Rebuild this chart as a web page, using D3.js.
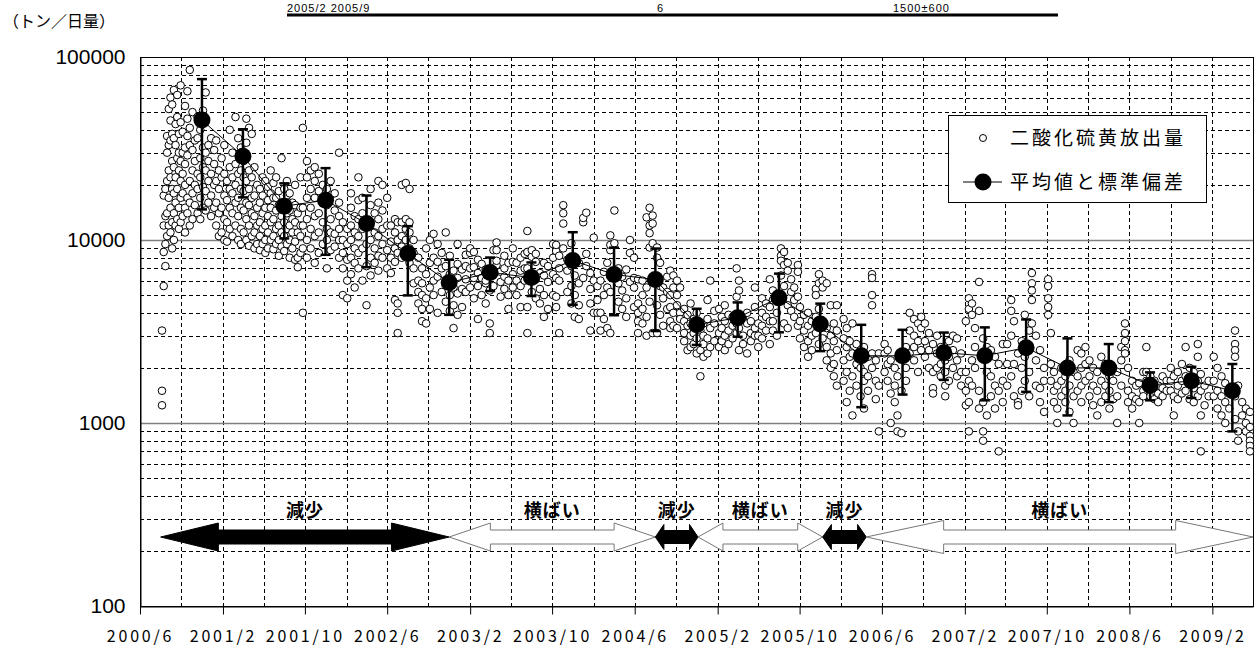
<!DOCTYPE html>
<html>
<head>
<meta charset="utf-8">
<script src="https://cdn.jsdelivr.net/npm/d3@7"></script>
<style>
body { margin: 0; background: #fff; }
svg text { font-family: "Noto Sans CJK JP", "Noto Sans", sans-serif; fill: #000; }
</style>
</head>
<body>
<div id="chart"></div>
<script>
// 4ヶ月ごとの平均値と標準偏差
let meanDates = ["2000-12-01", "2001-04-01", "2001-08-01", "2001-12-01", "2002-04-01", "2002-08-01",
    "2002-12-01", "2003-04-01", "2003-08-01", "2003-12-01", "2004-04-01", "2004-08-01",
    "2004-12-01", "2005-04-01", "2005-08-01", "2005-12-01", "2006-04-01", "2006-08-01",
    "2006-12-01", "2007-04-01", "2007-08-01", "2007-12-01", "2008-04-01", "2008-08-01",
    "2008-12-01", "2009-04-01"];
let meanValues = [45200, 28700, 15300, 16500, 12300, 8440, 5850, 6640, 6240, 7730, 6480, 6080,
    3440, 3760, 4840, 3480, 2330, 2330, 2420, 2330, 2580, 2000, 2000, 1610, 1700, 1500];
let meanSD = [30500, 11600, 5100, 8200, 5200, 3460, 1950, 1380, 1300, 3300, 2600, 2900,
    770, 800, 1710, 1010, 1110, 900, 700, 1000, 1100, 900, 700, 280, 330, 600];

// 傾向の区間
let trendStarts = ["2000-08-01", "2002-12-01", "2004-08-01", "2004-12-05", "2005-12-08", "2006-04-16"];
let trendEnds = ["2002-12-01", "2004-08-01", "2004-12-05", "2005-12-08", "2006-04-16", "2009-06-01"];
let trendLabels = ["減少", "横ばい", "減少", "横ばい", "減少", "横ばい"];

let yTickValues = [100, 1000, 10000, 100000];

// 上端で切れている表の最後の行
let tableRow = ["2005/2  2005/9", "6", "1500±600"];

// 二酸化硫黄放出量 (観測日, その日付付近の値)
let so2Obs = [
    ["2000-08-05", [1500, 1250, 3200]],
    ["2000-08-10", [5600, 8600, 12000, 17500]],
    ["2000-08-15", [7200, 9500, 13500, 19000]],
    ["2000-08-20", [10500, 14000, 21000, 30000, 37000]],
    ["2000-08-25", [12000, 17000, 24000, 33000, 52000]],
    ["2000-08-30", [11000, 15000, 22000, 35000, 45000, 60000]],
    ["2000-09-04", [9000, 12500, 19000, 27000, 38000, 55000]],
    ["2000-09-09", [10000, 14000, 18000, 25000, 36000, 66000]],
    ["2000-09-14", [12000, 16000, 22000, 33000, 43000]],
    ["2000-09-19", [13000, 19000, 28000, 47000, 62000]],
    ["2000-09-24", [11500, 15000, 24000, 30000, 38000]],
    ["2000-09-29", [12500, 17000, 21000, 27000, 44000, 70000]],
    ["2000-10-05", [13500, 18000, 23000, 30000, 39000]],
    ["2000-10-12", [11000, 15000, 20000, 26000, 32000, 54000]],
    ["2000-10-19", [14000, 17000, 29000, 37000, 46000, 65000]],
    ["2000-10-26", [12000, 16000, 21000, 33000, 41000, 85000]],
    ["2000-11-03", [13000, 18000, 24000, 31000, 50000]],
    ["2000-11-10", [15500, 20000, 27000, 35000]],
    ["2000-11-18", [14000, 19000, 23000, 36000, 47000]],
    ["2000-11-26", [13000, 17000, 22000, 28000, 40000]],
    ["2000-12-04", [15000, 19500, 25000, 32000, 51000]],
    ["2000-12-12", [14500, 18500, 24000, 30000, 64000]],
    ["2000-12-20", [16000, 21000, 27000, 33000]],
    ["2000-12-28", [13500, 17500, 23000, 36000]],
    ["2001-01-06", [15000, 20000, 26000, 31000]],
    ["2001-01-12", [12000, 16000, 21000, 35000]],
    ["2001-01-20", [10500, 14000, 19000, 24000]],
    ["2001-01-28", [11000, 15000, 22000, 28000]],
    ["2001-02-05", [10000, 13000, 17500, 23000, 33000]],
    ["2001-02-13", [9800, 12500, 16500, 21000]],
    ["2001-02-21", [11500, 15000, 19000, 25000, 40000]],
    ["2001-03-01", [10500, 14000, 18000, 22000, 30000]],
    ["2001-03-10", [12000, 16000, 20000, 26000, 47000]],
    ["2001-03-18", [10000, 13500, 17000, 23000, 36000]],
    ["2001-03-26", [9500, 11500, 15000, 19000, 24000, 32000]],
    ["2001-04-03", [11000, 14500, 18500, 22000, 27000]],
    ["2001-04-11", [10000, 13000, 16000, 21000, 34000, 46000]],
    ["2001-04-19", [9300, 12000, 15500, 19000, 24000, 41000]],
    ["2001-04-27", [10500, 14000, 17000, 22000, 38000]],
    ["2001-05-05", [9000, 11000, 13500, 17500, 25000]],
    ["2001-05-13", [9500, 12000, 15000, 20000]],
    ["2001-05-21", [8800, 10500, 12500, 16000, 19000]],
    ["2001-05-29", [9500, 11500, 14000, 17500, 22000]],
    ["2001-06-06", [8500, 10000, 12000, 15000, 21000]],
    ["2001-06-14", [9000, 11000, 13500, 16500, 19500]],
    ["2001-06-22", [10000, 12500, 15000, 18000, 24000]],
    ["2001-06-30", [8900, 10500, 13000, 17000, 20500]],
    ["2001-07-08", [9500, 11500, 14500, 17000, 22000]],
    ["2001-07-16", [8200, 10000, 12000, 15500, 18500]],
    ["2001-07-24", [9200, 11000, 13500, 16000, 28000]],
    ["2001-08-01", [8700, 10500, 12500, 15000, 19000]],
    ["2001-08-09", [9500, 11500, 14000, 17500, 21000]],
    ["2001-08-17", [8000, 10000, 12000, 14500, 18000]],
    ["2001-08-25", [9000, 11000, 13000, 16000]],
    ["2001-09-02", [7800, 9800, 12500, 15500, 20000]],
    ["2001-09-10", [7100, 8000, 11000, 14000]],
    ["2001-09-18", [8500, 10500, 12000, 15000, 22000]],
    ["2001-09-25", [41000, 4000, 9000, 12000, 15000]],
    ["2001-10-07", [8000, 10000, 13000, 17000, 22000, 27000]],
    ["2001-10-18", [9000, 11500, 15000, 19000, 24000]],
    ["2001-10-30", [7500, 10500, 13500, 17000, 21000, 25000]],
    ["2001-11-11", [8500, 11000, 14000, 18500, 23000]],
    ["2001-11-23", [9500, 12500, 16000, 20000]],
    ["2001-12-05", [7000, 10000, 11500, 15500, 19000]],
    ["2001-12-16", [8800, 11000, 13000, 17500, 21000]],
    ["2001-12-28", [9200, 10800, 14500, 18000]],
    ["2002-01-10", [8000, 10000, 11500, 13500, 16000, 30000]],
    ["2002-01-21", [5000, 7000, 8500, 10000, 12500]],
    ["2002-02-03", [4800, 6000, 7800, 9500, 11500]],
    ["2002-02-14", [6500, 8000, 10000, 12000, 15000, 18000]],
    ["2002-02-25", [5500, 7500, 9000, 11000, 13500]],
    ["2002-03-08", [7000, 8500, 10500, 13000, 16500, 22000]],
    ["2002-03-20", [6000, 9000, 11500, 14000, 17000]],
    ["2002-04-01", [4400, 7200, 9500, 12000]],
    ["2002-04-13", [6400, 8000, 10000, 12500, 15500, 19000]],
    ["2002-04-25", [7500, 9000, 11000, 14000]],
    ["2002-05-06", [6800, 8200, 10500, 13000, 16000, 21000]],
    ["2002-05-18", [8000, 9500, 11500, 14500, 20000]],
    ["2002-06-01", [7000, 8800, 12000, 17000]],
    ["2002-06-12", [6600, 8000, 9800, 12000]],
    ["2002-06-24", [4700, 7600, 9000, 11000, 13000]],
    ["2002-07-02", [3100, 4000, 4500, 8500, 10000, 12500]],
    ["2002-07-14", [8000, 9200, 10500, 12500, 20000]],
    ["2002-07-26", [8500, 10000, 11500, 13000, 20500]],
    ["2002-08-06", [7500, 9000, 11000, 12500, 19000]],
    ["2002-08-18", [5800, 7000, 8500, 10000]],
    ["2002-09-01", [4500, 5200, 6000, 8000]],
    ["2002-09-12", [3600, 4200, 5000, 5800, 7000]],
    ["2002-09-24", [3500, 4800, 6500, 9000]],
    ["2002-10-05", [4200, 5500, 7500, 10000]],
    ["2002-10-16", [5000, 6000, 8000, 10800]],
    ["2002-10-28", [4000, 6300, 7600, 9500]],
    ["2002-11-09", [5200, 7000, 8500]],
    ["2002-11-21", [4600, 5800, 7200, 11000]],
    ["2002-12-03", [4100, 5000, 6500, 8200]],
    ["2002-12-14", [3300, 4400, 5500, 6800]],
    ["2002-12-26", [3900, 5100, 6200, 7400, 9500]],
    ["2003-01-08", [4300, 5400, 6900]],
    ["2003-01-19", [5200, 6100, 7200, 8300]],
    ["2003-02-01", [5500, 7000, 8500, 9000]],
    ["2003-02-12", [4800, 6200, 7100, 8600]],
    ["2003-02-24", [3700, 5600, 6600, 7800]],
    ["2003-03-07", [5000, 6200, 7400]],
    ["2003-03-19", [4500, 5800, 6000, 6900]],
    ["2003-03-31", [3100, 3500, 5300, 6400]],
    ["2003-04-11", [5600, 6800, 8800]],
    ["2003-04-20", [7300, 7700, 8800, 9700]],
    ["2003-05-02", [4900, 5900, 6700]],
    ["2003-05-13", [5400, 6300, 7000, 8200]],
    ["2003-05-25", [4200, 5000, 6000, 7500]],
    ["2003-06-07", [5500, 6500, 7600, 9000]],
    ["2003-06-18", [5000, 6000, 7500]],
    ["2003-06-30", [4300, 5600, 6800, 8000]],
    ["2003-07-12", [6000, 7000, 8400]],
    ["2003-07-20", [3100, 4300, 7000, 8600, 11200]],
    ["2003-08-02", [5200, 6300, 8100, 8800]],
    ["2003-08-14", [4800, 6100, 7600, 8400]],
    ["2003-08-26", [4500, 5400, 6600]],
    ["2003-09-07", [3800, 5000, 6400, 7500]],
    ["2003-09-19", [4200, 5900, 7200]],
    ["2003-10-04", [5000, 6500, 8000, 9500]],
    ["2003-10-13", [4300, 4900, 6200, 8700, 9400]],
    ["2003-10-22", [3100, 6000, 7000, 8200]],
    ["2003-11-03", [12300, 14000, 15500, 9000]],
    ["2003-11-15", [5200, 6800, 7800]],
    ["2003-11-27", [4500, 5600, 7200, 9600]],
    ["2003-12-07", [3800, 5000, 6400]],
    ["2003-12-19", [3700, 4400, 5800, 7500]],
    ["2004-01-01", [6200, 12500, 13200]],
    ["2004-01-10", [7200, 14100, 8400]],
    ["2004-01-22", [3200, 4500, 5400, 6600]],
    ["2004-02-01", [10300, 6000, 4000]],
    ["2004-02-12", [4000, 4700, 5600]],
    ["2004-02-21", [3200, 4000, 6000]],
    ["2004-03-02", [3700, 5000, 6700]],
    ["2004-03-12", [3300, 5500, 7500]],
    ["2004-03-21", [3100, 5200, 8800, 10600, 9400]],
    ["2004-04-02", [6400, 9600, 14500]],
    ["2004-04-14", [4600, 5800, 7000]],
    ["2004-04-25", [4200, 5300, 6300]],
    ["2004-05-07", [3800, 4800, 6900]],
    ["2004-05-18", [8500, 10000, 5900]],
    ["2004-05-30", [6200, 8000, 5500, 4300]],
    ["2004-06-11", [3100, 3600, 4000, 4500, 6100]],
    ["2004-06-24", [3500, 4200, 5000, 6000]],
    ["2004-07-06", [3000, 3800, 5500, 13300]],
    ["2004-07-15", [9100, 10900, 12000, 15000, 4600]],
    ["2004-07-24", [12300, 13600, 9600, 3100]],
    ["2004-08-06", [8000, 9100, 3100, 4400]],
    ["2004-08-15", [7500, 5600, 3900]],
    ["2004-08-24", [5500, 4800, 3400]],
    ["2004-09-05", [4200, 5200, 6300]],
    ["2004-09-14", [6800, 4300, 3600, 3300, 5000]],
    ["2004-09-23", [6400, 5500, 4000, 3400]],
    ["2004-10-04", [5000, 3300, 4400, 6000]],
    ["2004-10-13", [5500, 4000, 3700]],
    ["2004-10-25", [2800, 3100, 3600, 4200]],
    ["2004-11-04", [3400, 2500, 3900]],
    ["2004-11-13", [3500, 3000, 2600, 4500]],
    ["2004-11-22", [3100, 2700, 3700]],
    ["2004-12-01", [2400, 2900, 3300, 4000]],
    ["2004-12-12", [1800, 2500, 3200]],
    ["2004-12-21", [2300, 3000, 3500, 2700]],
    ["2005-01-02", [4700, 3700, 2900, 2400]],
    ["2005-01-10", [6000, 3300, 2600]],
    ["2005-01-22", [4100, 2800, 3500]],
    ["2005-02-05", [4200, 3100, 2600]],
    ["2005-02-13", [3800, 3300, 2800]],
    ["2005-02-22", [3600, 3000, 2500, 4400]],
    ["2005-03-05", [3200, 2700, 3900]],
    ["2005-03-17", [3800, 3400, 2900]],
    ["2005-03-29", [7000, 4900, 3500, 3100]],
    ["2005-04-05", [6000, 5300, 3300, 2500]],
    ["2005-04-17", [3700, 3000, 2700]],
    ["2005-04-29", [4000, 3500, 2400]],
    ["2005-05-10", [3600, 3100, 2800]],
    ["2005-05-22", [5500, 4300, 3300, 3000]],
    ["2005-06-01", [3000, 2600, 3500]],
    ["2005-06-12", [3400, 4000, 4800, 2900]],
    ["2005-06-24", [3800, 4500, 3200]],
    ["2005-07-05", [6100, 4300, 3600, 2700]],
    ["2005-07-14", [5300, 3600, 3200, 4700]],
    ["2005-07-26", [4000, 4600, 3000]],
    ["2005-08-07", [9000, 8200, 7700, 6400]],
    ["2005-08-16", [8600, 7300, 5600, 3500]],
    ["2005-08-27", [7500, 6800, 4400, 3300]],
    ["2005-09-06", [6100, 5200, 4100]],
    ["2005-09-15", [5500, 4700, 3800]],
    ["2005-09-26", [7300, 6700, 4900, 3400]],
    ["2005-10-02", [4300, 3600, 2900]],
    ["2005-10-14", [3900, 3200, 2600]],
    ["2005-10-26", [4000, 3400, 2800, 2300]],
    ["2005-11-06", [3600, 3000, 2500]],
    ["2005-11-18", [5400, 5000, 3800, 3100]],
    ["2005-11-27", [6500, 5800, 4200, 2700]],
    ["2005-12-08", [6000, 5500, 3500, 2900]],
    ["2005-12-20", [5800, 3300, 2600, 2200]],
    ["2006-01-01", [4400, 3000, 2400, 2000]],
    ["2006-01-10", [3500, 2800, 2100, 1800]],
    ["2006-01-19", [4400, 3200, 2500, 1600]],
    ["2006-02-08", [3700, 2900, 2200, 1700]],
    ["2006-02-17", [3300, 2600, 1900, 1300]],
    ["2006-02-26", [2800, 2300, 1500]],
    ["2006-03-06", [3500, 2400, 1800, 1100]],
    ["2006-03-18", [2700, 2100, 1600]],
    ["2006-03-30", [2500, 2000, 1400]],
    ["2006-04-09", [2600, 1900, 1700, 1200]],
    ["2006-04-21", [2300, 1800, 1500]],
    ["2006-05-03", [6500, 6200, 5000, 4400, 2400, 2000]],
    ["2006-05-14", [2200, 1700, 1350]],
    ["2006-05-23", [2400, 1600, 900]],
    ["2006-06-09", [2700, 2400, 1900]],
    ["2006-06-18", [2500, 2100, 1700]],
    ["2006-06-27", [2200, 1450, 1000]],
    ["2006-07-09", [2000, 1300, 1600]],
    ["2006-07-17", [1800, 1100, 900]],
    ["2006-07-29", [2300, 1500, 880]],
    ["2006-08-11", [2600, 2000, 1700]],
    ["2006-08-22", [4000, 3200, 2400]],
    ["2006-09-04", [3700, 3000, 2600, 2200]],
    ["2006-09-16", [3500, 2800, 1900]],
    ["2006-09-25", [3800, 3300, 2500]],
    ["2006-10-06", [3500, 2800, 2300]],
    ["2006-10-18", [3100, 2500, 2000]],
    ["2006-10-30", [2700, 1900, 1550, 1450]],
    ["2006-11-11", [3000, 2400, 2000]],
    ["2006-11-22", [2600, 2100, 1800]],
    ["2006-12-05", [2200, 1900, 1600, 1400]],
    ["2006-12-16", [2800, 2300, 1700]],
    ["2006-12-28", [3000, 2500, 2000]],
    ["2007-01-09", [2900, 2200, 1800]],
    ["2007-01-21", [2400, 1900, 1600]],
    ["2007-02-04", [3600, 1900, 1500, 1250]],
    ["2007-02-13", [4800, 4200, 1700, 1300, 900]],
    ["2007-02-22", [4500, 3900, 2200, 1600]],
    ["2007-03-03", [3300, 2600, 2000]],
    ["2007-03-15", [5900, 4100, 1500, 1200]],
    ["2007-03-27", [2900, 1300, 900, 800]],
    ["2007-04-07", [2600, 1900, 1100]],
    ["2007-04-19", [2500, 1800, 1400]],
    ["2007-05-01", [2300, 1600, 1200]],
    ["2007-05-12", [2100, 1500, 700]],
    ["2007-05-24", [2700, 1700, 1300]],
    ["2007-06-06", [2700, 2100, 1600]],
    ["2007-06-18", [4700, 4100, 3000, 1800]],
    ["2007-06-26", [3600, 2100, 1400]],
    ["2007-07-08", [2400, 1300, 1250]],
    ["2007-07-19", [2800, 2000, 1500]],
    ["2007-07-28", [3900, 2300, 1700]],
    ["2007-08-10", [3200, 1900, 1400]],
    ["2007-08-18", [6600, 5800, 5300, 4700, 3500]],
    ["2007-08-30", [3000, 2200, 1600]],
    ["2007-09-11", [2500, 1550, 1300]],
    ["2007-09-23", [2000, 1700, 1150]],
    ["2007-10-05", [6100, 5600, 4800, 4300, 3900]],
    ["2007-10-13", [3100, 2100, 1700]],
    ["2007-10-22", [1900, 1500, 1300]],
    ["2007-11-01", [1600, 1200, 1000]],
    ["2007-11-13", [2000, 1700, 1400]],
    ["2007-11-25", [1800, 1500, 1300]],
    ["2007-12-07", [2200, 1600, 1150]],
    ["2007-12-19", [1900, 1400, 1000]],
    ["2007-12-31", [2500, 1800, 1500]],
    ["2008-01-11", [2400, 2000, 1600, 1300]],
    ["2008-01-23", [2600, 2100, 1700]],
    ["2008-02-04", [2200, 1800, 1400]],
    ["2008-02-15", [2000, 1600, 1250]],
    ["2008-02-27", [1900, 1500, 1100]],
    ["2008-03-10", [2300, 1700, 1300]],
    ["2008-03-22", [2100, 1600, 1400]],
    ["2008-04-03", [1800, 1500, 1200]],
    ["2008-04-14", [2000, 1700, 1350]],
    ["2008-04-26", [1900, 1400, 1000]],
    ["2008-05-08", [2600, 2200, 1600]],
    ["2008-05-19", [3500, 3100, 2800, 2500, 2400]],
    ["2008-05-28", [2000, 1500, 1300]],
    ["2008-06-09", [1700, 1400, 1200]],
    ["2008-06-21", [1600, 1350]],
    ["2008-06-30", [1650, 1300, 1000]],
    ["2008-07-12", [1900, 1500, 1400]],
    ["2008-07-21", [2600, 1900, 1700]],
    ["2008-08-02", [1800, 1600, 1400]],
    ["2008-08-14", [1700, 1500, 1350]],
    ["2008-08-25", [1600, 1450, 1300]],
    ["2008-09-07", [1800, 1550, 1400]],
    ["2008-09-19", [1700, 1500]],
    ["2008-10-01", [2000, 1700, 1500]],
    ["2008-10-10", [1800, 1400, 1100]],
    ["2008-10-22", [1900, 1600, 1350]],
    ["2008-11-03", [2100, 1700, 1450]],
    ["2008-11-14", [2600, 1800, 1500]],
    ["2008-11-26", [2000, 1650, 1350]],
    ["2008-12-08", [1900, 1550, 1300]],
    ["2008-12-20", [2700, 2300, 1700, 1400]],
    ["2008-12-29", [1850, 1500, 1100, 700]],
    ["2009-01-09", [1600, 1250]],
    ["2009-01-21", [1700, 1400]],
    ["2009-02-05", [2300, 1700, 1400]],
    ["2009-02-16", [2000, 1500, 1200]],
    ["2009-02-28", [1800, 1400, 1100]],
    ["2009-03-11", [1650, 1300, 1000]],
    ["2009-03-23", [1500, 1200]],
    ["2009-04-09", [3200, 2700, 2500, 2300, 1400, 1050]],
    ["2009-04-18", [1600, 900, 800]],
    ["2009-04-30", [1300, 1100]],
    ["2009-05-11", [1200, 1000, 900]],
    ["2009-05-23", [1150, 950, 850, 800, 750, 700]]
];

//---------------------------------------------------------------------------------------------

let svgWidth = 1260;
let svgHeight = 648;
let plot = { left: 140, right: 1253, top: 57, bottom: 606 };

let parseDate = d3.timeParse("%Y-%m-%d");
let startDate = new Date(2000, 5, 1);
let endDate = new Date(2009, 5, 1);

let svg = d3.select("#chart")
    .append("svg")
    .attr("width", svgWidth)
    .attr("height", svgHeight);

let x = d3.scaleTime()
    .domain([startDate, endDate])
    .range([plot.left, plot.right]);
let y = d3.scaleLog()
    .domain([100, 100000])
    .range([plot.bottom, plot.top]);

// 上端の表の行
let topRow = svg.append("g")
    .attr("font-size", 11)
    .attr("letter-spacing", 1)
    .style("font-family", "'Liberation Sans', Arial, sans-serif");
topRow.append("text").attr("x", 287).attr("y", 12).style("font-family", "inherit").text(tableRow[0]);
topRow.append("text").attr("x", 657).attr("y", 12).style("font-family", "inherit").text(tableRow[1]);
topRow.append("text").attr("x", 893).attr("y", 12).style("font-family", "inherit").text(tableRow[2]);
svg.append("line")
    .attr("x1", 287).attr("x2", 1058)
    .attr("y1", 15).attr("y2", 15)
    .attr("stroke", "#000")
    .attr("stroke-width", 3);

svg.append("text")
    .attr("x", 3)
    .attr("y", 27)
    .attr("font-size", 16)
    .text("（トン／日量）");

// グリッド
let grid = svg.append("g");
let minorY = [];
[100, 1000, 10000].forEach(d => {
    for (let k = 2; k <= 9; k++) minorY.push(d * k);
});
grid.selectAll(".hminor")
    .data(minorY)
    .enter()
    .append("line")
    .attr("x1", plot.left).attr("x2", plot.right)
    .attr("y1", d => Math.round(y(d)) + 0.5)
    .attr("y2", d => Math.round(y(d)) + 0.5)
    .attr("stroke", "#000")
    .attr("stroke-dasharray", "4,3");

grid.selectAll(".vgrid")
    .data(d3.timeMonth.range(new Date(2000, 9, 1), endDate, 4))
    .enter()
    .append("line")
    .attr("x1", d => Math.round(x(d)) + 0.5)
    .attr("x2", d => Math.round(x(d)) + 0.5)
    .attr("y1", plot.top).attr("y2", plot.bottom)
    .attr("stroke", "#000")
    .attr("stroke-dasharray", "4,3");

grid.selectAll(".hmajor")
    .data([1000, 10000])
    .enter()
    .append("line")
    .attr("x1", plot.left).attr("x2", plot.right)
    .attr("y1", d => Math.round(y(d)) + 0.5)
    .attr("y2", d => Math.round(y(d)) + 0.5)
    .attr("stroke", "#808080")
    .attr("stroke-width", 1.5);

// 枠
svg.append("rect")
    .attr("x", plot.left + 0.5)
    .attr("y", plot.top + 0.5)
    .attr("width", plot.right - plot.left)
    .attr("height", plot.bottom - plot.top)
    .attr("fill", "none")
    .attr("stroke", "#000");

// 軸
let xAxis = d3.axisBottom(x)
    .tickValues(d3.timeMonth.range(startDate, endDate, 8))
    .tickFormat(d3.timeFormat("%Y/%-m"))
    .tickSize(8)
    .tickSizeOuter(0);
let gx = svg.append("g")
    .attr("transform", `translate(0, ${plot.bottom + 0.5})`)
    .call(xAxis);
gx.select(".domain").attr("stroke", "#000");
gx.selectAll(".tick line").attr("stroke", "#000");
gx.selectAll(".tick text")
    .attr("y", 24)
    .attr("font-size", 16)
    .attr("letter-spacing", 2.8)
    .style("font-family", "'Noto Sans CJK JP', sans-serif");

let yAxis = d3.axisLeft(y)
    .tickValues(yTickValues)
    .tickFormat(d3.format("d"))
    .tickSize(0)
    .tickPadding(15);
let gy = svg.append("g")
    .attr("transform", `translate(${plot.left + 0.5}, 0)`)
    .call(yAxis);
gy.select(".domain").attr("stroke", "#000");
gy.selectAll(".tick text")
    .attr("font-size", 21)
    .style("font-family", "'Liberation Sans', Arial, sans-serif");

// 観測値
let points = [];
so2Obs.forEach(([date, values]) => {
    values.forEach(v => points.push({ date: parseDate(date), value: v }));
});

svg.append("g")
    .selectAll("circle")
    .data(points)
    .enter()
    .append("circle")
    .attr("cx", d => x(d.date))
    .attr("cy", d => y(d.value))
    .attr("r", 3.8)
    .attr("fill", "#fff")
    .attr("stroke", "#000")
    .attr("stroke-width", 1);

// 平均値と標準偏差
let means = meanDates.map((d, i) => ({
    date: parseDate(d),
    value: meanValues[i],
    sd: meanSD[i]
}));

svg.append("path")
    .datum(means)
    .attr("fill", "none")
    .attr("stroke", "#000")
    .attr("stroke-width", 1)
    .attr("d", d3.line().x(d => x(d.date)).y(d => y(d.value)));

let bars = svg.append("g")
    .selectAll("g")
    .data(means)
    .enter()
    .append("g")
    .attr("stroke", "#000")
    .attr("stroke-width", 2.5);
bars.append("line")
    .attr("x1", d => x(d.date)).attr("x2", d => x(d.date))
    .attr("y1", d => y(d.value + d.sd))
    .attr("y2", d => y(d.value - d.sd));
bars.append("line")
    .attr("x1", d => x(d.date) - 5).attr("x2", d => x(d.date) + 5)
    .attr("y1", d => y(d.value + d.sd))
    .attr("y2", d => y(d.value + d.sd));
bars.append("line")
    .attr("x1", d => x(d.date) - 5).attr("x2", d => x(d.date) + 5)
    .attr("y1", d => y(d.value - d.sd))
    .attr("y2", d => y(d.value - d.sd));

svg.append("g")
    .selectAll("circle")
    .data(means)
    .enter()
    .append("circle")
    .attr("cx", d => x(d.date))
    .attr("cy", d => y(d.value))
    .attr("r", 8.5)
    .attr("fill", "#000");

// 傾向の矢印
let arrowY = 537;
function arrowPath(x0, x1) {
    let len = x1 - x0;
    let head = len * 0.2;
    let hh = len < 60 ? 12.5 : (len > 300 ? 16.5 : 14);
    let sh = len < 60 ? 6.5 : 7;
    return [
        [x0, arrowY],
        [x0 + head, arrowY - hh],
        [x0 + head, arrowY - sh],
        [x1 - head, arrowY - sh],
        [x1 - head, arrowY - hh],
        [x1, arrowY],
        [x1 - head, arrowY + hh],
        [x1 - head, arrowY + sh],
        [x0 + head, arrowY + sh],
        [x0 + head, arrowY + hh]
    ].map(p => p.join(",")).join(" ");
}

let trends = trendLabels.map((label, i) => ({
    start: parseDate(trendStarts[i]),
    end: parseDate(trendEnds[i]),
    label: label
}));

let arrows = svg.append("g")
    .selectAll("g")
    .data(trends)
    .enter()
    .append("g");
arrows.append("polygon")
    .attr("points", d => arrowPath(x(d.start), x(d.end)))
    .attr("fill", d => d.label === "減少" ? "#000" : "#fff")
    .attr("stroke", d => d.label === "減少" ? "#000" : "#777")
    .attr("stroke-width", 1);
arrows.append("text")
    .attr("x", d => (x(d.start) + x(d.end)) / 2)
    .attr("y", 517)
    .attr("text-anchor", "middle")
    .attr("font-size", 18)
    .attr("font-weight", "bold")
    .attr("letter-spacing", 1)
    .text(d => d.label);

// 凡例
let legend = svg.append("g");
legend.append("rect")
    .attr("x", 948.5).attr("y", 115.5)
    .attr("width", 258).attr("height", 87)
    .attr("fill", "#fff")
    .attr("stroke", "#000");
legend.append("circle")
    .attr("cx", 983).attr("cy", 138)
    .attr("r", 3.5)
    .attr("fill", "#fff")
    .attr("stroke", "#000");
legend.append("line")
    .attr("x1", 963).attr("x2", 1002)
    .attr("y1", 182).attr("y2", 182)
    .attr("stroke", "#000");
legend.append("circle")
    .attr("cx", 983).attr("cy", 182)
    .attr("r", 8.5)
    .attr("fill", "#000");
legend.append("text")
    .attr("x", 1010).attr("y", 145)
    .attr("font-size", 19)
    .attr("letter-spacing", 3)
    .text("二酸化硫黄放出量");
legend.append("text")
    .attr("x", 1010).attr("y", 189)
    .attr("font-size", 19)
    .attr("letter-spacing", 3)
    .text("平均値と標準偏差");
</script>
</body>
</html>
